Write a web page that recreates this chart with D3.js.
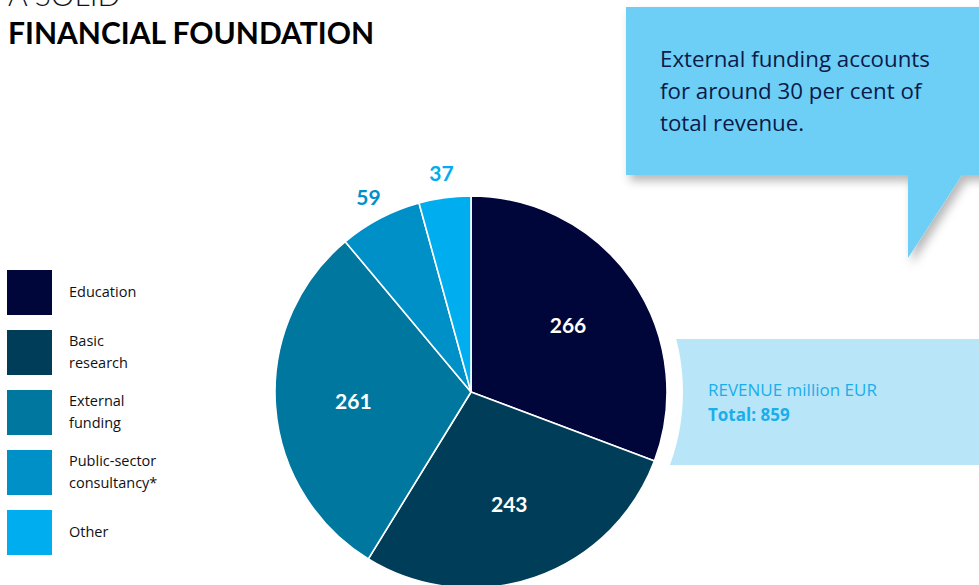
<!DOCTYPE html>
<html><head><meta charset="utf-8">
<script src="https://cdn.jsdelivr.net/npm/d3@7"></script>
<style>html,body{margin:0;padding:0;background:#fff;overflow:hidden}svg{display:block;font-family:"Open Sans",Lato,sans-serif}</style>
</head><body>
<svg id="c" width="979" height="585"></svg>
<script>
const categories = ["Education", "Basic research", "External funding", "Public-sector consultancy*", "Other"];
const legendLines = [["Education"], ["Basic", "research"], ["External", "funding"], ["Public-sector", "consultancy*"], ["Other"]];
const values = [266, 243, 261, 59, 37];
const colors = ["#00063a", "#003d59", "#00779f", "#0090c8", "#00adee"];
const insideLabel = [true, true, true, false, false];
const labelColors = ["#fff", "#fff", "#fff", "#0090c8", "#00adee"];
const calloutLines = ["External funding accounts", "for around 30 per cent of", "total revenue."];
const totalLabel = "REVENUE million EUR";
const totalValue = "Total: 859";

const svg = d3.select("#c");
const defs = svg.append("defs");
const f = defs.append("filter").attr("id","sh").attr("x","-20%").attr("y","-20%").attr("width","150%").attr("height","160%");
f.append("feDropShadow").attr("dx",4).attr("dy",6).attr("stdDeviation",5).attr("flood-color","#000").attr("flood-opacity",0.28);

// Title
svg.append("text").attr("x",8).attr("y",6).attr("font-size",30).attr("font-weight",300).attr("fill","#111").style("font-family","Lato").text("A SOLID");
svg.append("text").attr("x",8).attr("y",44).attr("font-size",30).attr("font-weight",700).attr("fill","#000").style("font-family","Lato").text("FINANCIAL FOUNDATION");

// Pie
const cx = 471, cy = 392, R = 196;
const pie = d3.pie().sort(null).value(d => d)(values);
const arc = d3.arc().innerRadius(0).outerRadius(R);
const g = svg.append("g").attr("transform", `translate(${cx},${cy})`);

// Revenue box with concave left edge
const Rgap = 212;
const bx0 = 660, by0 = 339, by1 = 465, bx1 = 979;
const m = defs.append("mask").attr("id", "revclip");
m.append("rect").attr("x",0).attr("y",0).attr("width",979).attr("height",585).attr("fill","#fff");
m.append("circle").attr("cx",cx).attr("cy",cy).attr("r",Rgap).attr("fill","#000");
svg.append("rect").attr("x",bx0).attr("y",by0).attr("width",bx1-bx0).attr("height",by1-by0).attr("fill","#b9e5f9").attr("mask","url(#revclip)");
svg.append("text").attr("x",708).attr("y",396).attr("font-size",17).attr("fill","#1aaeea").text(totalLabel);
svg.append("text").attr("x",708).attr("y",421).attr("font-size",17).attr("font-weight",700).attr("fill","#1aaeea").text(totalValue);

g.selectAll("path").data(pie).join("path")
  .attr("d", arc).attr("fill", (d,i) => colors[i]).attr("stroke","#fff").attr("stroke-width",1.6);

const inArc = d3.arc().innerRadius(118).outerRadius(118);
const outArc = d3.arc().innerRadius(221).outerRadius(221);
g.selectAll("text.v").data(pie).join("text").attr("class","v")
  .attr("transform", (d,i) => `translate(${(insideLabel[i] ? inArc : outArc).centroid(d)})`)
  .attr("text-anchor","middle").attr("dy","0.4em").style("font-family","Lato")
  .attr("font-size",21).attr("font-weight",700).attr("fill",(d,i)=>labelColors[i])
  .text(d => d.data);

// Callout
const cg = svg.append("g").attr("filter","url(#sh)");
cg.append("path").attr("d","M626,7 L985,7 L985,175 L962,175 L908,258 L908,175 L626,175 Z").attr("fill","#6dcff6");
svg.append("g").selectAll("text").data(calloutLines).join("text")
  .attr("x",660).attr("y",(d,i)=>67+i*32).attr("font-size",22.3).attr("fill","#0b1a48").text(d=>d);

// Legend
const lg = svg.append("g");
categories.forEach((c,i) => {
  const y = 270 + i*60;
  lg.append("rect").attr("x",7).attr("y",y).attr("width",45).attr("height",45).attr("fill",colors[i]);
  const lines = legendLines[i];
  const t = lg.append("text").attr("font-size",14.5).attr("fill","#111");
  const y0 = lines.length === 1 ? y + 27 : y + 16;
  lines.forEach((l,j) => t.append("tspan").attr("x",69).attr("y", y0 + j*22).text(l));
});
</script>
</body></html>
